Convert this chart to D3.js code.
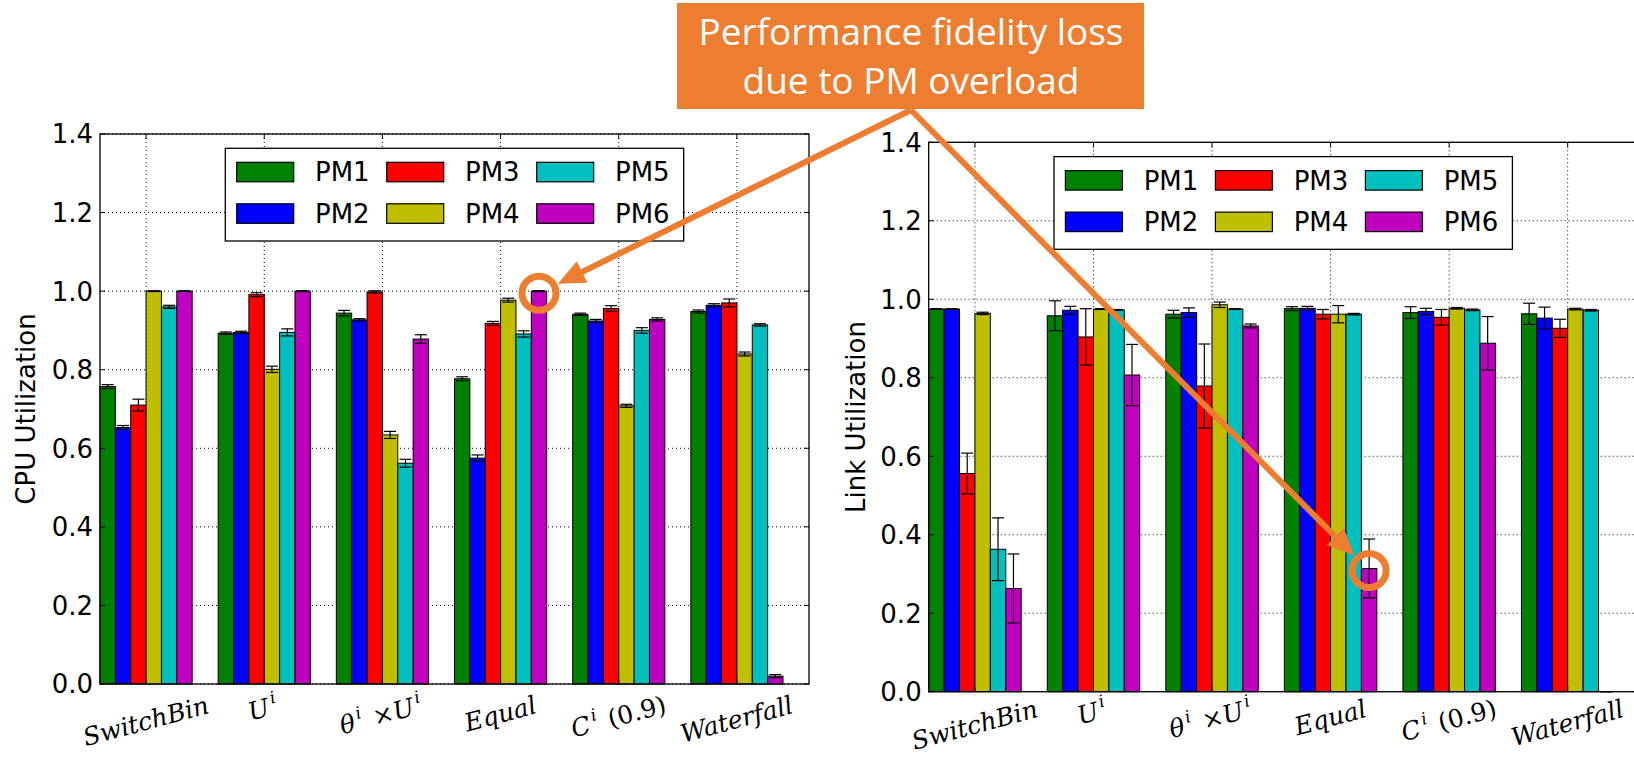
<!DOCTYPE html>
<meta charset="utf-8">
<script src="https://d3js.org/d3.v7.min.js"></script>
<style>
  body { margin: 0; background: #ffffff; }
  .math { font-family: "DejaVu Serif", serif; }
</style>

<svg id="my_dataviz" width="1634" height="758"></svg>

<script>

// Categories (tick labels, "^" marks a superscript) and machines
var categories = ["SwitchBin", "U^i", "θ^i ×U^i", "Equal", "C^i (0.9)", "Waterfall"];
var machines = ["PM1", "PM2", "PM3", "PM4", "PM5", "PM6"];
var colors = ["#008000", "#0000ff", "#ff0000", "#bfbf00", "#00bfbf", "#bf00bf"];
var yTicks = [0.0, 0.2, 0.4, 0.6, 0.8, 1.0, 1.2, 1.4];

// CPU utilization, one row per category, PM1..PM6
var cpuValues = [
  [0.757, 0.653, 0.710, 1.000, 0.960, 1.000],
  [0.893, 0.895, 0.991, 0.801, 0.895, 1.000],
  [0.944, 0.927, 0.998, 0.634, 0.562, 0.878],
  [0.777, 0.575, 0.918, 0.977, 0.891, 1.000],
  [0.941, 0.924, 0.956, 0.708, 0.900, 0.928],
  [0.948, 0.964, 0.970, 0.840, 0.914, 0.020]
];
var cpuErrors = [
  [0.005, 0.005, 0.015, 0.001, 0.004, 0.001],
  [0.003, 0.003, 0.005, 0.008, 0.009, 0.001],
  [0.007, 0.003, 0.003, 0.009, 0.010, 0.011],
  [0.005, 0.008, 0.005, 0.005, 0.008, 0.001],
  [0.003, 0.004, 0.007, 0.004, 0.007, 0.004],
  [0.004, 0.004, 0.010, 0.005, 0.003, 0.004]
];

// Link utilization
var linkValues = [
  [0.975, 0.975, 0.556, 0.964, 0.363, 0.263],
  [0.958, 0.972, 0.904, 0.975, 0.973, 0.807],
  [0.962, 0.966, 0.779, 0.986, 0.975, 0.932],
  [0.976, 0.977, 0.962, 0.962, 0.962, 0.314],
  [0.966, 0.969, 0.954, 0.977, 0.973, 0.888],
  [0.963, 0.952, 0.926, 0.975, 0.972, 0.000]
];
var linkErrors = [
  [0.001, 0.001, 0.052, 0.003, 0.080, 0.088],
  [0.038, 0.010, 0.072, 0.001, 0.001, 0.078],
  [0.010, 0.012, 0.107, 0.007, 0.001, 0.005],
  [0.005, 0.005, 0.012, 0.022, 0.002, 0.075],
  [0.015, 0.008, 0.020, 0.002, 0.002, 0.068],
  [0.027, 0.028, 0.023, 0.002, 0.002, 0.000]
];

// the bar that the annotation points at (Equal, PM6)
var highlight = {cat: 3, pm: 5};
var noteLines = ["Performance fidelity loss", "due to PM overload"];

var svg = d3.select("svg");
svg.append("rect").attr("width", 1634).attr("height", 758).attr("fill", "#fff");

var barWidth = 0.13;
var orange = "#ED7D31";

// writes a label like "θ^i ×U^i" as tspans: letters italic, superscripts small and raised
function mathLabel(text, label) {
  var re = /\^(.)|([^\^]+)/g, m;
  while ((m = re.exec(label)) !== null) {
    if (m[1]) {
      text.append("tspan").attr("font-size", "68%").attr("font-style", "italic")
        .attr("dx", 3).attr("dy", -11).text(m[1]);
      text.append("tspan").attr("dy", 11).text("\u200a");
    } else {
      m[2].split(/([A-Za-zθ]+)/).forEach(function(part){
        if (!part) return;
        text.append("tspan")
          .attr("font-style", /[A-Za-zθ]/.test(part) ? "italic" : "normal")
          .text(part);
      });
    }
  }
}

function drawPanel(cfg) {

  var x = d3.scaleLinear().domain([0, 6]).range([cfg.left, cfg.right]);
  var y = d3.scaleLinear().domain([0, 1.4]).range([cfg.bottom, cfg.top]);
  var g = svg.append("g");
  var tickPos = categories.map(function(d, i){ return i + 3 * barWidth });

  // dotted grid
  g.selectAll("hgrid").data(yTicks).enter().append("line")
    .attr("x1", cfg.left).attr("x2", cfg.right)
    .attr("y1", function(d){ return y(d) }).attr("y2", function(d){ return y(d) })
    .attr("stroke", "#000").attr("stroke-width", 1).attr("stroke-dasharray", "1,3");
  g.selectAll("vgrid").data(tickPos).enter().append("line")
    .attr("x1", function(d){ return x(d) }).attr("x2", function(d){ return x(d) })
    .attr("y1", cfg.top).attr("y2", cfg.bottom)
    .attr("stroke", "#000").attr("stroke-width", 1).attr("stroke-dasharray", "1,3");

  // flatten the table
  var rows = [];
  cfg.values.forEach(function(row, i){
    row.forEach(function(v, j){ rows.push({cat: i, pm: j, v: v, e: cfg.errors[i][j]}) });
  });

  // bars
  g.selectAll("bars").data(rows).enter().append("rect")
    .attr("x", function(d){ return x(d.cat + d.pm * barWidth) })
    .attr("width", x(barWidth) - x(0))
    .attr("y", function(d){ return y(d.v) })
    .attr("height", function(d){ return y(0) - y(d.v) })
    .attr("fill", function(d){ return colors[d.pm] })
    .attr("stroke", "#000").attr("stroke-width", 1);

  // error bars
  var cap = 6;
  var eb = g.selectAll("errs").data(rows).enter().append("g")
    .attr("stroke", "#000").attr("stroke-width", 1.2);
  function cx(d){ return x(d.cat + (d.pm + 0.5) * barWidth) }
  eb.append("line")
    .attr("x1", cx).attr("x2", cx)
    .attr("y1", function(d){ return y(d.v + d.e) }).attr("y2", function(d){ return y(d.v - d.e) });
  eb.append("line")
    .attr("x1", function(d){ return cx(d) - cap }).attr("x2", function(d){ return cx(d) + cap })
    .attr("y1", function(d){ return y(d.v + d.e) }).attr("y2", function(d){ return y(d.v + d.e) });
  eb.append("line")
    .attr("x1", function(d){ return cx(d) - cap }).attr("x2", function(d){ return cx(d) + cap })
    .attr("y1", function(d){ return y(d.v - d.e) }).attr("y2", function(d){ return y(d.v - d.e) });

  // frame
  g.append("rect")
    .attr("x", cfg.left).attr("y", cfg.top)
    .attr("width", cfg.right - cfg.left).attr("height", cfg.bottom - cfg.top)
    .attr("fill", "none").attr("stroke", "#000").attr("stroke-width", 1.3);

  // inward ticks on all sides
  var tl = 5;
  yTicks.forEach(function(t){
    g.append("line").attr("x1", cfg.left).attr("x2", cfg.left + tl)
      .attr("y1", y(t)).attr("y2", y(t)).attr("stroke", "#000");
    g.append("line").attr("x1", cfg.right).attr("x2", cfg.right - tl)
      .attr("y1", y(t)).attr("y2", y(t)).attr("stroke", "#000");
  });
  tickPos.forEach(function(t){
    g.append("line").attr("x1", x(t)).attr("x2", x(t))
      .attr("y1", cfg.bottom).attr("y2", cfg.bottom - tl).attr("stroke", "#000");
    g.append("line").attr("x1", x(t)).attr("x2", x(t))
      .attr("y1", cfg.top).attr("y2", cfg.top + tl).attr("stroke", "#000");
  });

  // y tick labels
  g.selectAll("ylab").data(yTicks).enter().append("text")
    .attr("x", cfg.left - 7)
    .attr("y", function(d){ return y(d) })
    .attr("dy", "0.36em")
    .attr("text-anchor", "end")
    .style("font-family", "'DejaVu Sans'").style("font-size", "26px")
    .text(function(d){ return d3.format(".1f")(d) });

  // x tick labels, rotated 15 degrees
  var ang = 15 * Math.PI / 180;
  categories.forEach(function(c, i){
    var t = g.append("text")
      .attr("class", "math")
      .attr("text-anchor", "middle")
      .attr("font-size", 25)
      .attr("font-weight", 300)
      .attr("dy", "0.3em");
    mathLabel(t, c);
    var w = t.node().getComputedTextLength();
    var h = 26;
    var cy = cfg.bottom + cfg.labelGap + (w * Math.sin(ang) + h * Math.cos(ang)) / 2;
    t.attr("transform", "translate(" + x(tickPos[i]) + "," + cy + ") rotate(-15)");
  });

  // y axis label
  g.append("text")
    .attr("transform", "translate(" + cfg.ylabelX + "," + ((cfg.top + cfg.bottom) / 2) + ") rotate(-90)")
    .attr("text-anchor", "middle").attr("dy", "0.36em")
    .style("font-family", "'DejaVu Sans'").style("font-size", "26px")
    .text(cfg.ylabel);

  // legend, 3 columns x 2 rows
  var lg = g.append("g").attr("transform", "translate(" + (cfg.left + 125.3) + "," + (cfg.top + 14.3) + ")");
  lg.append("rect").attr("width", 458.4).attr("height", 92.7)
    .attr("fill", "#fff").attr("stroke", "#000").attr("stroke-width", 1.3);
  machines.forEach(function(m, k){
    var col = Math.floor(k / 2), row = k % 2;
    lg.append("rect")
      .attr("x", 11.4 + col * 150).attr("y", 14 + row * 41.5)
      .attr("width", 57).attr("height", 19.5)
      .attr("fill", colors[k]).attr("stroke", "#000").attr("stroke-width", 1.2);
    lg.append("text")
      .attr("x", 89.7 + col * 150).attr("y", 23.7 + row * 41.5).attr("dy", "0.36em")
      .style("font-family", "'DejaVu Sans'").style("font-size", "26px")
      .text(m);
  });

  var hv = cfg.values[highlight.cat][highlight.pm];
  return {cx: x(highlight.cat + (highlight.pm + 0.5) * barWidth), cy: y(hv) + 2};
}

var leftMark = drawPanel({
  left: 100, right: 809, top: 134, bottom: 684,
  values: cpuValues, errors: cpuErrors,
  ylabel: "CPU Utilization", ylabelX: 25.5, labelGap: 9
});

var rightMark = drawPanel({
  left: 928.7, right: 1640, top: 142.3, bottom: 691.7,
  values: linkValues, errors: linkErrors,
  ylabel: "Link Utilization", ylabelX: 856, labelGap: 5
});

// annotation box
var note = svg.append("g");
note.append("rect")
  .attr("x", 677).attr("y", 3).attr("width", 467).attr("height", 106)
  .attr("fill", orange);
var noteText = note.selectAll("noteText").data(noteLines).enter().append("text")
  .attr("x", 911).attr("y", function(d, i){ return 45 + i * 49 })
  .attr("text-anchor", "middle")
  .attr("fill", "#fff")
  .style("font-family", "'Open Sans', sans-serif").style("font-size", "31px")
  .text(function(d){ return d });
// size the first line to the width it has in the slide
var w0 = noteText.node().getComputedTextLength();
noteText.style("font-size", (31 * 425 / w0) + "px");

// circles and arrows from the box to the highlighted bars
var apex = [911, 110];
[leftMark, rightMark].forEach(function(p){
  note.append("circle").attr("cx", p.cx).attr("cy", p.cy).attr("r", 17)
    .attr("fill", "none").attr("stroke", orange).attr("stroke-width", 7);
  var dx = apex[0] - p.cx, dy = apex[1] - p.cy, len = Math.sqrt(dx * dx + dy * dy);
  var ux = dx / len, uy = dy / len;
  var tip = [p.cx + ux * 21, p.cy + uy * 21];
  var base = [tip[0] + ux * 27, tip[1] + uy * 27];
  note.append("line")
    .attr("x1", apex[0]).attr("y1", apex[1]).attr("x2", base[0] - ux * 2).attr("y2", base[1] - uy * 2)
    .attr("stroke", orange).attr("stroke-width", 6);
  note.append("path")
    .attr("d", "M" + tip + "L" + [base[0] - uy * 12, base[1] + ux * 12] + "L" + [base[0] + uy * 12, base[1] - ux * 12] + "Z")
    .attr("fill", orange);
});

</script>
